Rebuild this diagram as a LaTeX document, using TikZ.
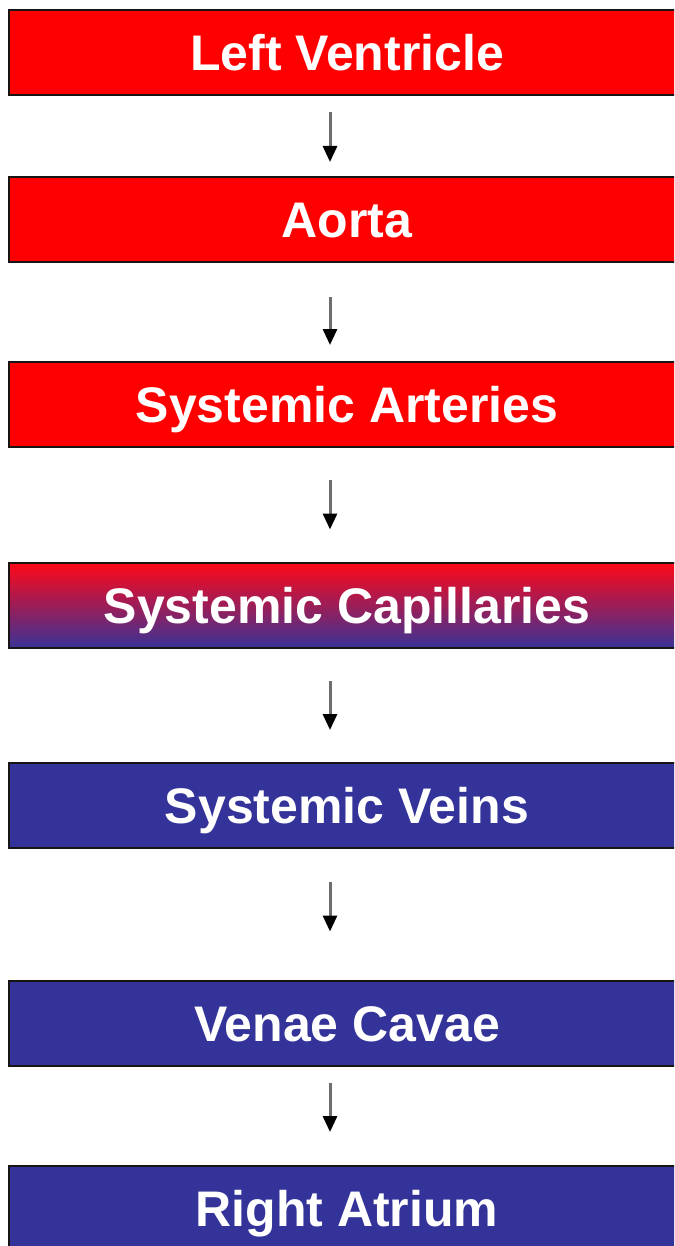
\documentclass[tikz,border=0pt]{standalone}
\usepackage{fontspec}
\setmainfont{Liberation Sans}
\usetikzlibrary{arrows.meta}
\definecolor{artred}{RGB}{255,0,0}
\definecolor{veinblue}{RGB}{51,51,153}
\definecolor{capTop}{RGB}{255,8,24}
\definecolor{capMid}{RGB}{228,24,76}
\definecolor{capBot}{RGB}{58,51,150}
\definecolor{edge}{RGB}{25,20,20}
\definecolor{shaft}{RGB}{110,110,110}
\tikzset{
  box/.style={draw=edge, line width=2pt, minimum width=676pt, minimum height=85pt,
    inner sep=0pt, outer sep=0pt, text=white,
    font=\fontsize{50}{51}\selectfont\bfseries, text height=36pt, text depth=0pt},
  redbox/.style={box, fill=artred},
  bluebox/.style={box, fill=veinblue},
  capbox/.style={box, top color=capTop, middle color=capMid, bottom color=capBot},
  arr/.style={draw=shaft, line width=3pt, -{Triangle[length=16pt,width=14pt,black]}}
}
\begin{document}
\begin{tikzpicture}[x=1pt,y=-1pt]
\useasboundingbox (0,0) rectangle (674,1246);
\clip (0,0) rectangle (674,1246);
\fill[white] (0,0) rectangle (674,1246);
\node[redbox]  (b1) at (347,52.5)  {Left Ventricle};
\node[redbox]  (b2) at (347,219.5) {Aorta};
\node[redbox]  (b3) at (347,404.5) {Systemic Arteries};
\node[capbox]  (b4) at (347,605)   {Systemic Capillaries};
\node[bluebox] (b5) at (347,805.5) {Systemic Veins};
\node[bluebox] (b6) at (347,1023)  {Venae Cavae};
\node[bluebox] (b7) at (347,1208.5){Right Atrium};
\draw[arr] ([shift={(-17,17)}]b1.south) -- ([shift={(-17,-15)}]b2.north);
\draw[arr] ([shift={(-17,35)}]b2.south) -- ([shift={(-17,-17)}]b3.north);
\draw[arr] ([shift={(-17,33)}]b3.south) -- ([shift={(-17,-33)}]b4.north);
\draw[arr] ([shift={(-17,33)}]b4.south) -- ([shift={(-17,-33)}]b5.north);
\draw[arr] ([shift={(-17,34)}]b5.south) -- ([shift={(-17,-49)}]b6.north);
\draw[arr] ([shift={(-17,17)}]b6.south) -- ([shift={(-17,-34)}]b7.north);
\end{tikzpicture}
\end{document}
